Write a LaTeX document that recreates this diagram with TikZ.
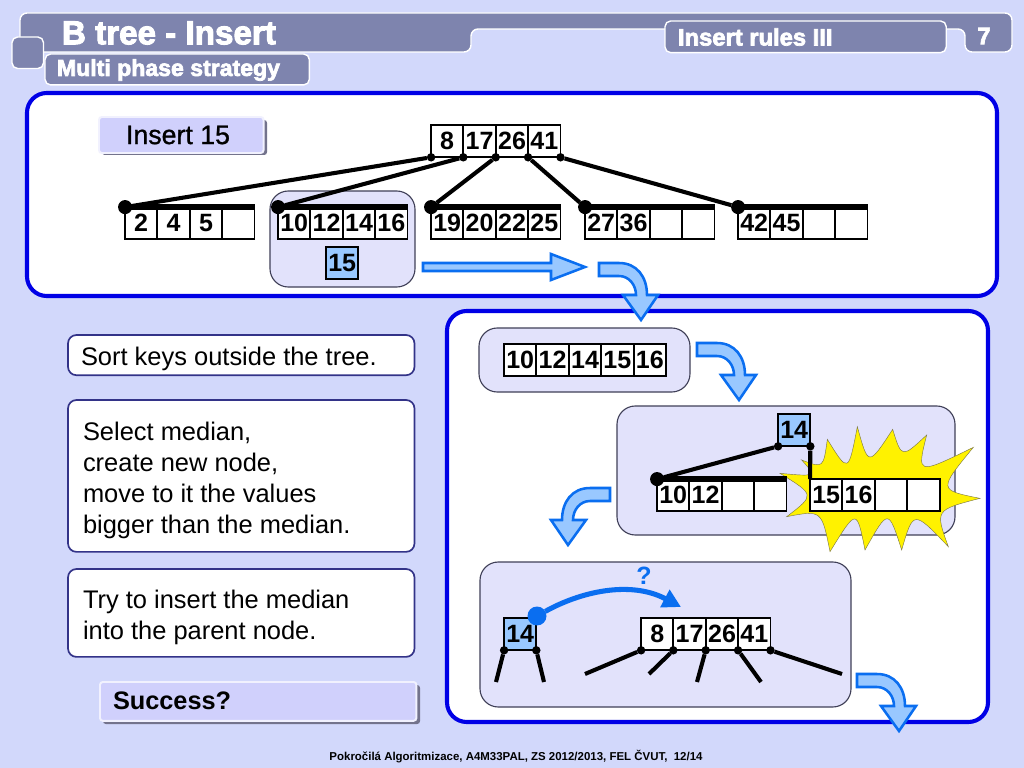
\documentclass[tikz,border=0pt]{standalone}
\usepackage{fontspec}
\setmainfont{Liberation Sans}
\newfontfamily\keyfont{Liberation Sans Bold}
\newfontfamily\tagfont[FakeBold=1]{Liberation Sans}
\newfontfamily\headfont[FakeBold=3]{Liberation Sans Bold}
\usetikzlibrary{arrows.meta}
\definecolor{pagebg}{HTML}{D2D8FB}
\definecolor{headbg}{HTML}{7E84AE}
\definecolor{framec}{HTML}{0000E6}
\definecolor{panelbg}{HTML}{E2E2FB}
\definecolor{panelln}{HTML}{404058}
\definecolor{arrowc}{HTML}{0A6EF0}
\definecolor{arrowbg}{HTML}{99C8FF}
\definecolor{infoln}{HTML}{333388}
\definecolor{tagbg}{HTML}{D0D0FC}
\tikzset{
  every node/.style={inner sep=0pt,outer sep=0pt},
  keycell/.style={draw=black,fill=white,line width=1.4pt,minimum width=22.9pt,minimum height=22.9pt,font=\keyfont\fontsize{17.8}{20}\selectfont},
  bigframe/.style={draw=framec,fill=white,line width=2.9pt,rounded corners=14pt},
  panel/.style={draw=panelln,fill=panelbg,line width=0.8pt,rounded corners=13pt},
  infobox/.style={draw=infoln,fill=white,line width=1.2pt,rounded corners=6pt,anchor=north west,minimum width=246.4pt},
  infotext/.style={anchor=west,align=left,font=\fontsize{18.1}{21.9}\selectfont},
  tagbox/.style={draw=white!70!tagbg,fill=tagbg,line width=1.4pt,rounded corners=2pt,anchor=north west},
  headbox/.style={draw=white,fill=headbg,line width=1pt,rounded corners=4pt,anchor=north west},
  headtext/.style={text=white,anchor=west,font=\headfont\fontsize{16.4}{18}\selectfont},
  bigdot/.style={circle,fill=black,minimum size=10pt},
  smalldot/.style={circle,fill=black,minimum size=6pt},
  edge/.style={draw=black,line width=2.9pt},
  stub/.style={draw=black,line width=2.9pt},
  topbar/.style={draw=black,line width=4.2pt},
  blockarrow/.style={draw=arrowc,fill=arrowbg,line width=1.8pt,line join=miter},
  bendarrow/.pic={
    \draw[blockarrow] (0,0) -- (20,0) .. controls (38,0) and (48,14) .. (48,32) -- (59,32) -- (42,57) -- (24,32) -- (37,32) .. controls (37,22) and (30,13) .. (20,13) -- (0,13) -- cycle;
  }
}
\begin{document}
\begin{tikzpicture}[x=0.025cm,y=-0.025cm]
\def\dk{32.4}
\def\dc{16.2}
\useasboundingbox (0,0) rectangle (1024,768);
\fill[pagebg] (0,0) rectangle (1024,768);
%header
\draw[draw=white,fill=headbg,line width=1pt,rounded corners=5pt] (20,13) -- (1012,13) -- (1012,52) -- (965,52) -- (965,29) -- (471,29) -- (471,52) -- (20,52) -- cycle;
\node[headbox,minimum width=22.4pt,minimum height=22.4pt] (corner) at (12,37) {};
\node[headbox,minimum width=188pt,minimum height=22pt] (subbox) at (45,54) {};
\node[headbox,minimum width=200pt,minimum height=22.5pt] (rulesbox) at (665,21) {};
\node[headtext,font=\headfont\fontsize{23.6}{26}\selectfont] (title) at (62,33) {B tree - Insert};
\node[headtext] (subtitle) at (57,70) {Multi phase strategy};
\node[headtext,font=\headfont\fontsize{16.9}{18}\selectfont] (rules) at (678,37) {Insert rules III};
\node[headtext,anchor=center,font=\headfont\fontsize{17}{20}\selectfont] (pageno) at (984,36) {7};
%frames and panels
\draw[bigframe] (27,93) rectangle (997,296);
\draw[bigframe] (447,311) rectangle (988,722);
\draw[panel] (270,191) rectangle (415,287);
\draw[panel] (479,328) rectangle (690,392);
\draw[panel] (617,406) rectangle (955,535);
\draw[panel] (480,562) rectangle (851,707);
%labels
\fill[gray!90!blue,rounded corners=2pt] (102,120) rectangle (267,155);
\node[tagbox,minimum width=117pt,minimum height=25.6pt] (inserttag) at (99,117) {};
\node[font=\tagfont\fontsize{19}{22}\selectfont] (inserttext) at (178,135) {Insert 15};
\fill[gray!90!blue,rounded corners=2pt] (103,685) rectangle (420,724);
\node[tagbox,minimum width=225pt,minimum height=27.6pt] (successtag) at (100,682) {};
\node[anchor=west,font=\bfseries\fontsize{18}{22}\selectfont] (successtext) at (113,701) {Success?};
\node[infobox,minimum height=28.6pt] (sortbox) at (68,335) {};
\node[infobox,minimum height=108pt] (medianbox) at (68,400) {};
\node[infobox,minimum height=62.5pt] (parentbox) at (68,569) {};
\node[infotext] (sorttext) at (81,359) {Sort keys outside the tree.};
\node[infotext] (mediantext) at (83,480.5) {Select median,\\create new node,\\move to it the values\\bigger than the median.};
\node[infotext] (parenttext) at (83,617.5) {Try to insert the median\\into the parent node.};
%yellow star
\draw[fill=yellow,draw=black!60!yellow,line width=0.3pt,shift={(540,320)},scale=1/3]
  (785,420) .. controls (850,445) .. (862,358) .. controls (925,460) .. (952,320)
  .. controls (985,440) .. (1058,328) .. controls (1085,415) .. (1160,345)
  .. controls (1130,465) .. (1300,382) .. controls (1195,510) .. (1320,535)
  .. controls (1185,570) .. (1225,680) .. controls (1120,570) .. (1085,690)
  .. controls (1045,565) .. (975,690) .. controls (950,565) .. (870,695)
  .. controls (845,570) .. (740,590) .. controls (825,525) .. (720,460)
  .. controls (830,470) .. cycle;
%keys
\foreach\n/\x/\y/\keys/\col in {root/431/125/{8,17,26,41}/white,
  leafa/125/207/{2,4,5,{}}/white,leafb/278/207/{10,12,14,16}/white,leafc/431/207/{19,20,22,25}/white,
  leafd/585/207/{27,36,{},{}}/white,leafe/738/207/{42,45,{},{}}/white,
  newkey/326/247/{15}/arrowbg,sorted/504/344/{10,12,14,15,16}/white,
  median/778/414/{14}/arrowbg,lefthalf/657/479/{10,12,{},{}}/white,righthalf/810/479/{15,16,{},{}}/white,
  upkey/504/618/{14}/arrowbg,parent/641/618/{8,17,26,41}/white} {
  \foreach\k [count=\i] in \keys {
    \node[keycell,fill=\col] (\n-\i) at (\x+\i*\dk-\dk+\dc,\y+\dc) {\k};
  }
}
%top bars of the leaves
\foreach\n/\e in {leafa/4,leafb/4,leafc/4,leafd/4,leafe/4,lefthalf/4} {
  \draw[topbar] (\n-1.north west) -- (\n-\e.north east);
}
%tree edges
\foreach\s/\d/\n/\t in {p1/1.south west/leafa-1.north west/la,p2/1.south east/leafb-1.north west/lb,p3/2.south east/leafc-1.north west/lc,p4/3.south east/leafd-1.north west/ld,p5/4.south east/leafe-1.north west/le} {
  \node[smalldot] (\s) at (root-\d) {};
  \node[bigdot] (\t) at (\n) {};
  \draw[edge] (\s) -- (\t);
}
\node[smalldot] (mleft) at (median-1.south west) {};
\node[smalldot] (mright) at (median-1.south east) {};
\node[bigdot] (lefthead) at (lefthalf-1.north west) {};
\draw[edge] (mleft) -- (lefthead);
\draw[edge] (mright) -- (righthalf-1.north west);
%loose subtrees
\coordinate (ua) at (496,682);
\coordinate (ub) at (544,682);
\node[smalldot] (upa) at (upkey-1.south west) {};
\node[smalldot] (upb) at (upkey-1.south east) {};
\draw[stub] (upa) -- (ua);
\draw[stub] (upb) -- (ub);
\foreach\s/\d/\x/\y in {q1/1.south west/585/674,q2/1.south east/649/674,q3/2.south east/697/682,q4/3.south east/761/682,q5/4.south east/842/674} {
  \node[smalldot] (\s) at (parent-\d) {};
  \coordinate (\s-end) at (\x,\y);
  \draw[stub] (\s) -- (\s-end);
}
%blue arrows
\draw[blockarrow] (423,263) -- (551,263) -- (551,254) -- (585,267) -- (551,280) -- (551,271) -- (423,271) -- cycle;
\pic at (599,263) {bendarrow};
\pic at (697,343) {bendarrow};
\pic[xscale=-1] at (610,488) {bendarrow};
\pic at (857,674) {bendarrow};
\node[circle,fill=arrowc,minimum size=13.5pt] (movedot) at (537,616) {};
\coordinate (movetip) at (681,607);
\draw[arrowc,line width=3.6pt,-{Triangle[length=13pt,width=13.5pt]}] (movedot) .. controls (580,592) and (630,580) .. (movetip);
\node[text=arrowc,font=\bfseries\fontsize{17.8}{22}\selectfont] (question) at (644,576) {?};
%footer
\node[font=\bfseries\fontsize{8.15}{10}\selectfont] (footer) at (516,757) {Pokročilá Algoritmizace, A4M33PAL, ZS 2012/2013, FEL ČVUT,\ \ 12/14};
\end{tikzpicture}
\end{document}
